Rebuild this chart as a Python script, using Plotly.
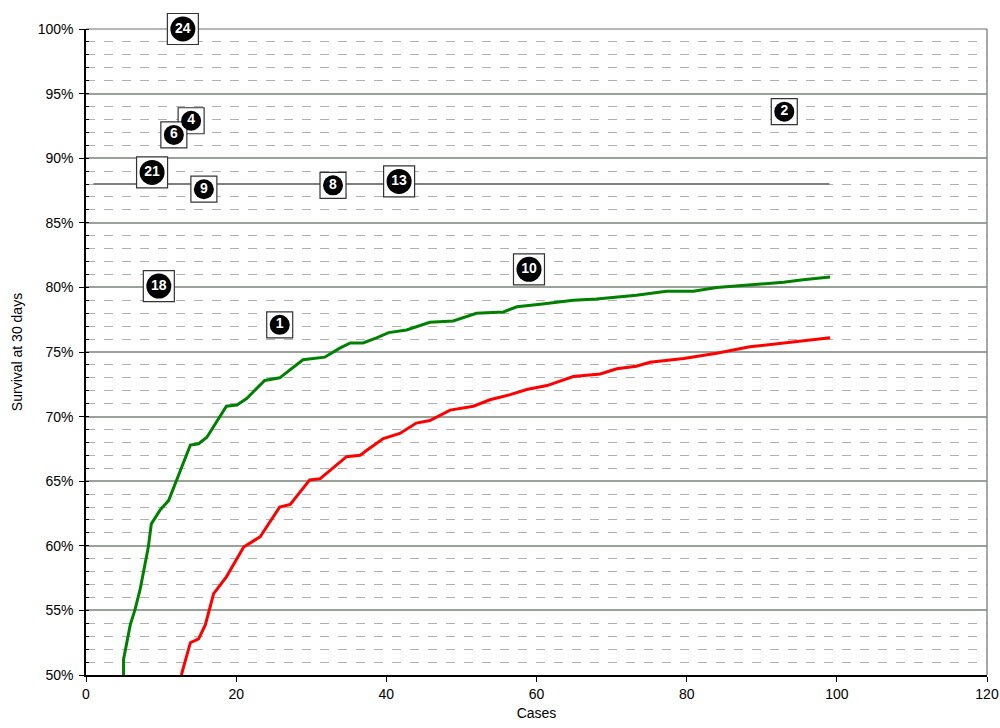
import plotly.graph_objects as go

# Green curve (cases, survival %)
green_x = [5.0, 5.0, 5.9, 6.5, 7.2, 8.3, 8.7, 9.9, 11.0, 12.1, 13.9, 15.0, 16.1, 18.7, 20.1, 21.4,
           23.8, 25.8, 28.9, 31.8, 33.8, 35.2, 36.9, 38.7, 40.3, 42.7, 45.8, 48.9, 52.0, 55.6,
           57.4, 60.5, 64.9, 68.0, 73.3, 77.3, 80.9, 84.0, 88.4, 92.9, 95.5, 99.1]
green_y = [50.0, 51.2, 53.9, 55.0, 56.6, 59.9, 61.7, 62.8, 63.5, 65.1, 67.8, 67.9, 68.4, 70.8, 70.9, 71.4,
           72.8, 73.0, 74.4, 74.6, 75.3, 75.7, 75.7, 76.1, 76.5, 76.7, 77.3, 77.4, 78.0, 78.1,
           78.5, 78.7, 79.0, 79.1, 79.4, 79.7, 79.7, 80.0, 80.2, 80.4, 80.6, 80.8]

# Red curve
red_x = [12.7, 13.9, 15.0, 15.9, 17.0, 18.7, 21.0, 23.2, 25.8, 27.2, 29.8, 31.2, 34.7, 36.5, 37.4,
         39.6, 41.8, 44.0, 45.8, 48.5, 51.6, 53.8, 56.5, 58.7, 61.4, 64.9, 68.5, 70.7, 73.3, 75.1,
         79.6, 84.0, 88.4, 92.9, 99.1]
red_y = [50.0, 52.5, 52.8, 53.9, 56.3, 57.6, 59.9, 60.7, 63.0, 63.2, 65.1, 65.2, 66.9, 67.0, 67.4,
         68.3, 68.7, 69.5, 69.7, 70.5, 70.8, 71.3, 71.7, 72.1, 72.4, 73.1, 73.3, 73.7, 73.9, 74.2,
         74.5, 74.9, 75.4, 75.7, 76.1]

# Reference line
ref_x = [1, 99]
ref_y = [88, 88]

# Numbered points
pt_labels = ["24", "4", "6", "21", "9", "8", "13", "2", "18", "10", "1"]
pt_x = [12.9, 14.0, 11.7, 8.8, 15.7, 32.9, 41.7, 93.0, 9.7, 59.0, 25.8]
pt_y = [100.0, 92.9, 91.8, 88.9, 87.6, 87.9, 88.2, 93.6, 80.1, 81.4, 77.1]

y_ticks = [50, 55, 60, 65, 70, 75, 80, 85, 90, 95, 100]
y_tick_text = [f"{v}%" for v in y_ticks]
x_ticks = [0, 20, 40, 60, 80, 100, 120]

fig = go.Figure()

fig.add_trace(go.Scatter(x=ref_x, y=ref_y, mode="lines",
                         line=dict(color="#7f7f7f", width=2), hoverinfo="skip", showlegend=False))
fig.add_trace(go.Scatter(x=green_x, y=green_y, mode="lines",
                         line=dict(color="#008000", width=3), showlegend=False))
fig.add_trace(go.Scatter(x=red_x, y=red_y, mode="lines",
                         line=dict(color="#ff0000", width=3), showlegend=False))

sq_sizes = [31 if len(s) > 1 else 26 for s in pt_labels]
circ_sizes = [25 if len(s) > 1 else 20 for s in pt_labels]

fig.add_trace(go.Scatter(x=pt_x, y=pt_y, mode="markers", cliponaxis=False,
                         marker=dict(symbol="square", size=sq_sizes, color="white", opacity=1,
                                     line=dict(color="#333333", width=1.2)),
                         showlegend=False, hoverinfo="skip"))
fig.add_trace(go.Scatter(x=pt_x, y=pt_y, mode="markers+text", cliponaxis=False,
                         marker=dict(symbol="circle", size=circ_sizes, color="#000000", opacity=1,
                                     line=dict(width=0)),
                         text=pt_labels, textposition="middle center",
                         textfont=dict(color="white", size=14, family="Liberation Sans"),
                         texttemplate="<b>%{text}</b>",
                         showlegend=False))

fig.update_layout(
    width=1000, height=728,
    margin=dict(l=86, r=13, t=29, b=53),
    paper_bgcolor="white", plot_bgcolor="white",
    font=dict(family="Liberation Sans, Arial, sans-serif", size=13, color="black"),
    xaxis=dict(range=[0, 120], tickvals=x_ticks, ticks="outside", ticklen=5,
               tickcolor="black", showline=True, linecolor="black", linewidth=1.5,
               showgrid=False, zeroline=False, automargin=False,
               tickfont=dict(size=14),
               title=dict(text="Cases", standoff=8, font=dict(size=14))),
    yaxis=dict(range=[50, 100], tickvals=y_ticks, ticktext=y_tick_text,
               ticks="outside", ticklen=5, tickcolor="black", automargin=False,
               showline=True, linecolor="black", linewidth=1.5,
               tickfont=dict(size=14), ticklabelstandoff=3,
               showgrid=True, gridcolor="#98a298", gridwidth=1.5, zeroline=False,
               minor=dict(dtick=1, showgrid=True, gridcolor="#b0b0b0", griddash="dash",
                          gridwidth=1, ticks="inside", ticklen=3, tickcolor="black"),
               title=dict(text="Survival at 30 days", standoff=12, font=dict(size=14))),
    shapes=[dict(type="line", xref="paper", yref="paper", x0=1, x1=1, y0=0, y1=1,
                 line=dict(color="#8a8a8a", width=1.5)),
            dict(type="line", xref="paper", yref="paper", x0=0, x1=1, y0=1, y1=1,
                 line=dict(color="#98a298", width=1.5), layer="below")],
)

fig.write_html("out.html", config={"displayModeBar": False},
               post_script="document.body.style.margin='0';document.body.style.overflow='hidden';")
